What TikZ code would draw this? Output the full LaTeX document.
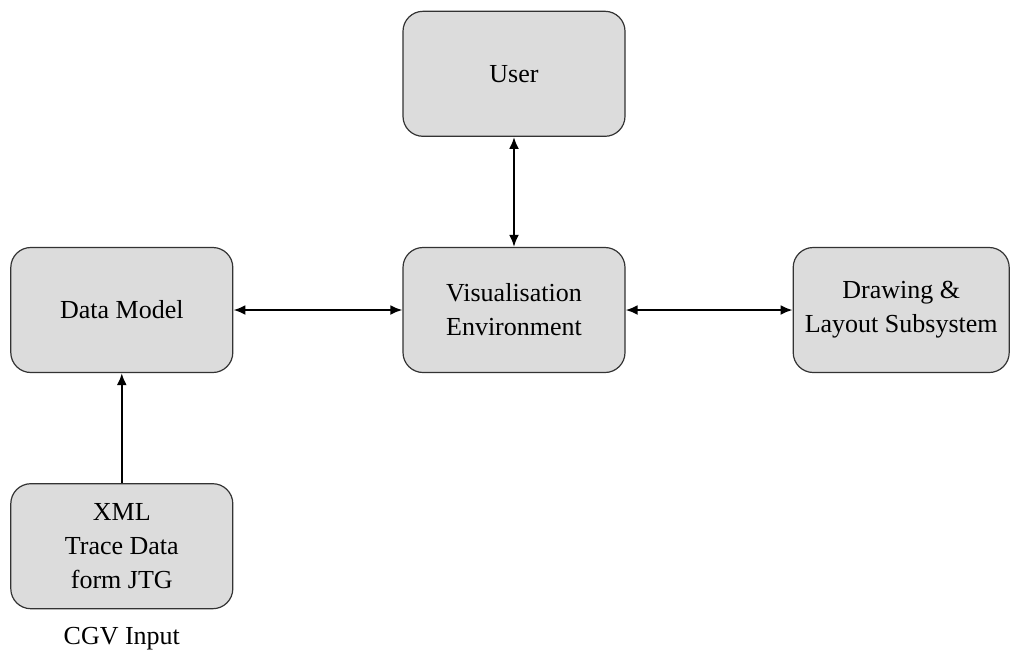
\documentclass[tikz,border=0pt]{standalone}
\usepackage{fontspec}
\setmainfont{Liberation Serif}
\usetikzlibrary{arrows.meta,positioning}

\definecolor{boxgray}{RGB}{220,220,220}

\begin{document}
\begin{tikzpicture}[<->,>={Latex[length=12pt,width=10pt]},line width=2.2pt,
    every node/.style={font=\fontsize{26}{34}\selectfont}]
      \tikzstyle{block}=[rectangle,rounded corners=20pt,fill=boxgray,draw=black!80,
        line width=1.2pt,minimum width=222pt,minimum height=125pt,align=center]

      \useasboundingbox (0,0) rectangle (1011pt,-654pt);

      \node[block]  (vis)                           at (514pt,-310pt) {Visualisation\\Environment};
      \node[block]  (user) [above=110pt of vis]     {User};
      \node[block]  (dm)   [left=169pt of vis]      {Data Model};
      \node[block,minimum width=216pt] (draw) [right=167pt of vis] {Drawing \&\\Layout Subsystem};
      \node[block]  (xml)  [below=110pt of dm]      {XML\\Trace Data\\form JTG};
      \node[inner sep=0pt] (cgv) [below=17pt of xml] {CGV Input};

      \path (user) edge (vis)
            (dm)   edge (vis)
            (vis)  edge (draw)
            (xml)  edge [->] (dm);
\end{tikzpicture}
\end{document}
